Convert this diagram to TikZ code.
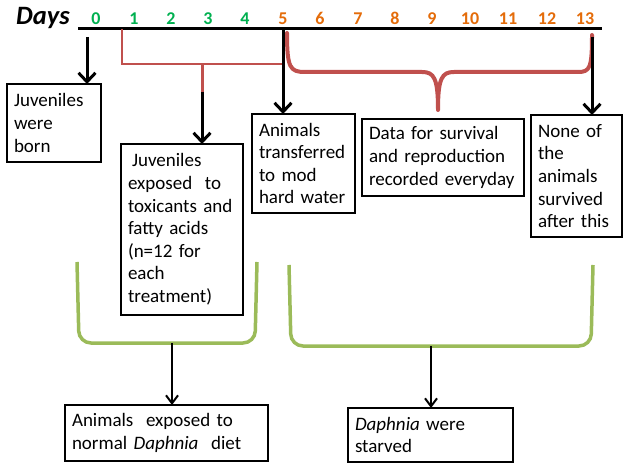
\documentclass[tikz,border=0pt]{standalone}
\usepackage{fontspec}
\setmainfont{Carlito}
\usetikzlibrary{arrows.meta}
\definecolor{numgreen}{RGB}{0,176,80}
\definecolor{numorange}{RGB}{228,108,10}
\definecolor{brred}{RGB}{192,80,77}
\definecolor{brgreen}{RGB}{155,187,89}
\begin{document}
\begin{tikzpicture}[x=1pt,y=-1pt,
  box/.style={draw, line width=2.4pt, anchor=north west, inner xsep=7pt, inner ysep=0pt, outer sep=0pt, align=left, font=\fontsize{19}{22.6}\selectfont},
  bigarr/.style={line width=3pt, -{Straight Barb[length=9pt,width=17pt]}},
  smallarr/.style={line width=2pt, -{Straight Barb[length=8pt,width=12pt]}},
  gnum/.style={anchor=base, text=numgreen, font=\fontsize{18}{20}\selectfont\bfseries},
  onum/.style={anchor=base, text=numorange, font=\fontsize{18}{20}\selectfont\bfseries},
  redbr/.style={draw=brred, line width=2.2pt},
  redbrace/.style={draw=brred, line width=4pt, line join=round, line cap=round},
  greenbr/.style={draw=brgreen, line width=3.5pt, rounded corners=12pt}]
\useasboundingbox (0,0) rectangle (629,470);

% timeline
\node[anchor=base west, inner sep=0pt, font=\fontsize{26.5}{28}\selectfont\bfseries\itshape] (days) at (16,25) {Days};
\coordinate (tlstart) at (78,29);
\coordinate (tlend) at (602,29);
\draw[line width=3pt] (tlstart) -- (tlend);

\node[gnum] (n0) at (96,25) {0};
\node[gnum] (n1) at (134,25) {1};
\node[gnum] (n2) at (171,25) {2};
\node[gnum] (n3) at (208,25) {3};
\node[gnum] (n4) at (245,25) {4};
\node[onum] (n5) at (283,25) {5};
\node[onum] (n6) at (320,25) {6};
\node[onum] (n7) at (358,25) {7};
\node[onum] (n8) at (395,25) {8};
\node[onum] (n9) at (432,25) {9};
\node[onum] (n10) at (470,25) {10};
\node[onum] (n11) at (508,25) {11};
\node[onum] (n12) at (547,25) {12};
\node[onum] (n13) at (585,25) {13};

% boxes
\node[box, text width=80pt, minimum height=78pt] (b1) at (7,84) {Juveniles\\were\\born};
\node[box, text width=108pt, minimum height=171pt] (b2) at (121,144) {\hspace*{4pt}Juveniles\\exposed\ \ to\\toxicants and\\fatty acids\\(n=12 for\\each\\treatment)};
\node[box, text width=89pt, minimum height=99pt] (b3) at (252,114) {Animals\\transferred\\to mod\\hard water};
\node[box, text width=148pt, minimum height=77pt] (b4) at (362,119) {Data for survival\\and reproduction\\recorded everyday};
\node[box, text width=77pt, minimum height=122pt] (b5) at (531,115) {None of\\the\\animals\\survived\\after this};
\node[box, text width=189pt, minimum height=56pt] (b6) at (65,405) {Animals\ \ exposed to\\normal \textit{Daphnia}\ \ diet};
\node[box, text width=151pt, minimum height=54pt] (b7) at (348,408) {\textit{Daphnia} were\\starved};

% red bracket days 1-5
\coordinate (r1) at (122,29);
\coordinate (r2) at (122,64);
\coordinate (r3) at (283,64);
\coordinate (rs) at (202,64);
\coordinate (rsend) at (202,92);
\draw[redbr] (r1) -- (r2) -- (r3);
\draw[draw=brred, line width=3pt] (rs) -- (rsend);
\draw[bigarr] (rsend) -- (rsend |- b2.north);

% red brace days 5-13
\coordinate (bl) at (287,33);
\coordinate (bc) at (438,110);
\coordinate (br) at (592,35);
\draw[redbrace] (bl) .. controls (287,68) and (290,72) .. (305,72) -- (422,72)
  .. controls (434,72) and (438,78) .. (bc)
  .. controls (438,78) and (442,72) .. (454,72) -- (578,72)
  .. controls (590,72) and (592,68) .. (br);

% arrows from timeline
\coordinate (d0) at (87,37);
\coordinate (d5) at (283,30);
\coordinate (d13) at (592,37);
\draw[bigarr] (d0) -- (d0 |- b1.north);
\draw[bigarr] (d5) -- (d5 |- b3.north);
\draw[bigarr] (d13) -- (d13 |- b5.north);

% green brackets
\draw[greenbr] (77,262) -- (79,343) -- (255,343) -- (257,262);
\draw[greenbr] (289,265) -- (291,346) -- (591,346) -- (593,265);
\coordinate (gl) at (172,343);
\coordinate (gr) at (431,346);
\draw[smallarr] (gl) -- (gl |- b6.north);
\draw[smallarr] (gr) -- (gr |- b7.north);
\end{tikzpicture}
\end{document}
